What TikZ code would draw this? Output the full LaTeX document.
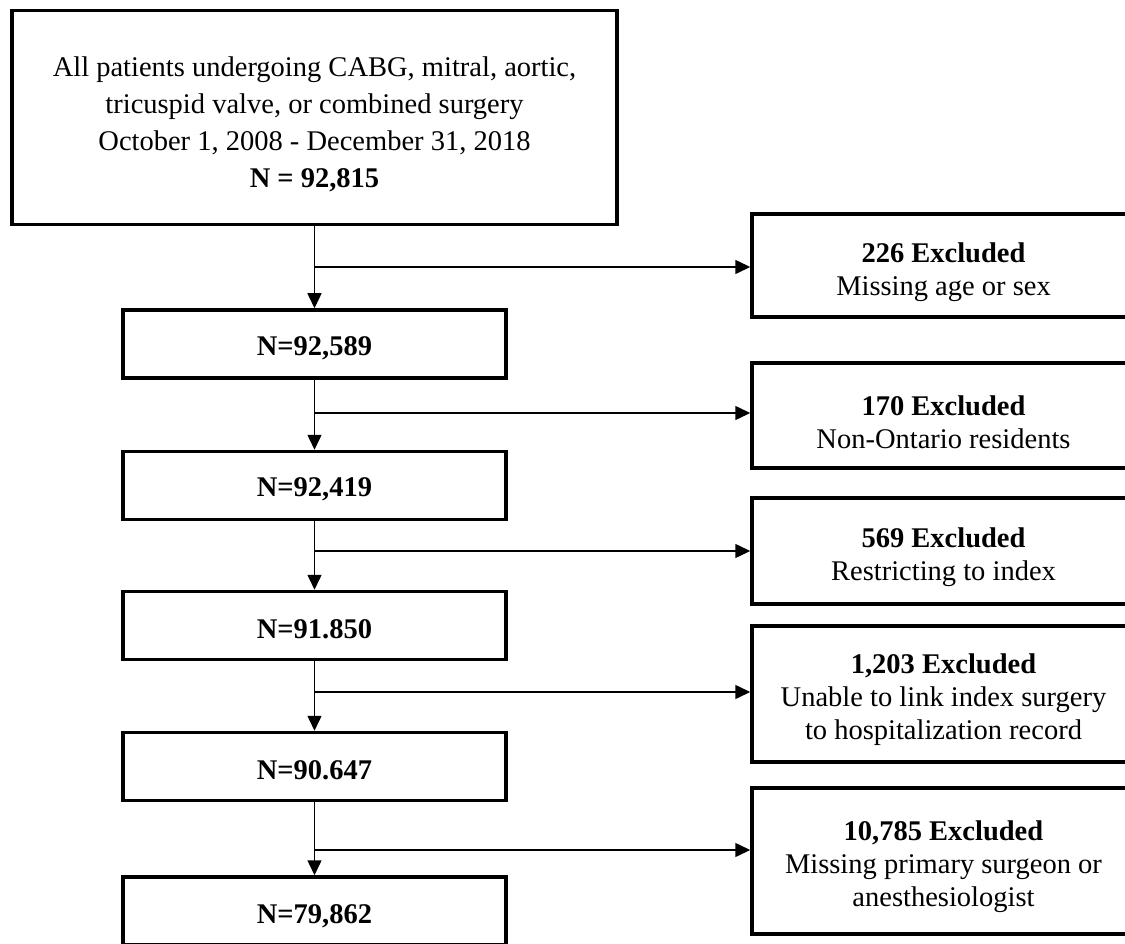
\documentclass[tikz,border=0pt]{standalone}
\usepackage{fontspec}
\setmainfont{Liberation Serif}
\usetikzlibrary{arrows.meta}
\newcommand{\padtop}[1]{\rule{0pt}{#1}}
\tikzset{
	flowbox/.style={draw,rectangle,line width=3.5pt,align=center,inner sep=0pt,minimum width=383pt,font=\fontsize{28.5}{33}\selectfont},
	link/.style={line width=1.5pt,-{Triangle[length=15pt,width=14pt]}}
}
\begin{document}
\begin{tikzpicture}[x=1pt,y=-1pt]
		\useasboundingbox (0,0) rectangle (1125,944);
		\clip (0,0) rectangle (1125,944);
		\node[flowbox,minimum width=605pt,minimum height=214pt,font=\fontsize{28.5}{37}\selectfont] (all) at (314.5,117.5) {\padtop{34pt}All patients undergoing CABG, mitral, aortic,\\tricuspid valve, or combined surgery\\October 1, 2008 - December 31, 2018\\\textbf{N = 92,815}};
		\node[flowbox,minimum height=68pt] (n1) at (314.5,344) {\padtop{27pt}\textbf{N=92,589}};
		\node[flowbox,minimum height=68pt] (n2) at (314.5,485.5) {\padtop{27pt}\textbf{N=92,419}};
		\node[flowbox,minimum height=68pt] (n3) at (314.5,625.5) {\padtop{27pt}\textbf{N=91.850}};
		\node[flowbox,minimum height=68pt] (n4) at (314.5,766.5) {\padtop{27pt}\textbf{N=90.647}};
		\node[flowbox,minimum height=68pt] (n5) at (314.5,911) {\padtop{29pt}\textbf{N=79,862}};
		\node[flowbox,minimum height=103pt] (ex1) at (943.5,265.5) {\padtop{33pt}\textbf{226 Excluded}\\Missing age or sex};
		\node[flowbox,minimum height=105pt] (ex2) at (943.5,415.5) {\padtop{33pt}\textbf{170 Excluded}\\Non-Ontario residents};
		\node[flowbox,minimum height=106pt] (ex3) at (943.5,551) {\padtop{33pt}\textbf{569 Excluded}\\Restricting to index};
		\node[flowbox,minimum height=136pt] (ex4) at (943.5,694) {\padtop{31pt}\textbf{1,203 Excluded}\\Unable to link index surgery\\to hospitalization record};
		\node[flowbox,minimum height=146pt] (ex5) at (943.5,861) {\padtop{31pt}\textbf{10,785 Excluded}\\Missing primary surgeon or\\anesthesiologist};
		% branch points on the main line
		\coordinate (br1) at (314.5,267);
		\coordinate (br2) at (314.5,413);
		\coordinate (br3) at (314.5,551);
		\coordinate (br4) at (314.5,692);
		\coordinate (br5) at (314.5,850);
		\draw[link] (all.south) -- (n1.north);
		\draw[link] (n1.south) -- (n2.north);
		\draw[link] (n2.south) -- (n3.north);
		\draw[link] (n3.south) -- (n4.north);
		\draw[link] (n4.south) -- (n5.north);
		\draw[link] (br1) -- (br1 -| ex1.west);
		\draw[link] (br2) -- (br2 -| ex2.west);
		\draw[link] (br3) -- (br3 -| ex3.west);
		\draw[link] (br4) -- (br4 -| ex4.west);
		\draw[link] (br5) -- (br5 -| ex5.west);
	\end{tikzpicture}
\end{document}
